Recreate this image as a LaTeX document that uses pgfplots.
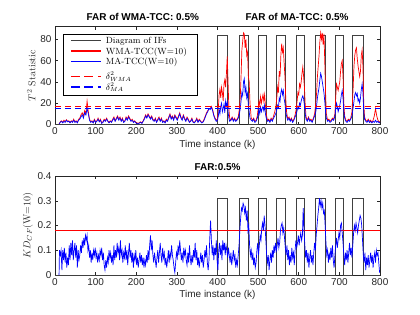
\documentclass[border=0pt]{standalone}
\usepackage{pgfplots}
\pgfplotsset{compat=1.18}
\usepackage{fontspec}
\setsansfont{Liberation Sans}
\definecolor{axgray}{rgb}{0.15,0.15,0.15}
\definecolor{ifgray}{rgb}{0.25,0.25,0.25}
\pgfplotsset{
  myaxis/.style={
    scale only axis, width=325bp, xmin=0, xmax=800,
    axis line style={axgray, line width=0.5pt},
    tick style={axgray, line width=0.5pt},
    tick align=inside, tick pos=both, major tick length=3bp,
    xtick={0,100,...,800},
    ticklabel style={font=\sffamily\fontsize{10}{12}\selectfont, text=axgray},
    /pgf/number format/assume math mode=true,
    xlabel={\sffamily\fontsize{10}{12}\selectfont Time instance (k)},
    xlabel style={text=axgray, yshift=2bp},
    ylabel style={text=axgray, yshift=-2bp},
  }
}
\newcommand{\legline}[1]{\tikz[baseline=-3pt]\draw[#1] (0bp,0bp) -- (30bp,0bp);}
\begin{document}
\begin{tikzpicture}
% ---------- top axis ----------
\begin{axis}[myaxis, at={(55bp,-124.5bp)}, anchor=south west, height=98bp,
  ymin=0, ymax=92, ytick={0,20,...,80},
  ylabel={\fontsize{10}{12}\selectfont $T^2$ Statistic},
  clip=false]
\addplot[color=ifgray, line width=0.8pt] coordinates {(0,0) (400,0) (400,84) (425,84) (425,0) (455,0) (455,84) (477,84) (477,0) (500,0) (500,84) (520,84) (520,0) (545,0) (545,84) (568,84) (568,0) (595,0) (595,84) (613,84) (613,0) (642,0) (642,84) (665,84) (665,0) (690,0) (690,84) (709,84) (709,0) (733,0) (733,84) (758,84) (758,0) (800,0)};
\addplot[color=red, line width=0.7pt] coordinates {(10,0.5) (13,2.5) (16,3.5) (19,2) (22,4) (25,2.5) (28,4.5) (31,3) (34,3.5) (37,2) (40,3.5) (43,2.5) (46,5) (49,2.5) (52,3.5) (55,2) (58,5) (61,6) (64,9) (67,11) (70,8) (73,13) (76,10) (79,22) (82,12) (85,5) (88,2.5) (91,3.5) (94,2) (97,5) (100,2.5) (103,3.5) (106,6) (109,3) (112,5) (115,1.5) (118,2.5) (121,5) (124,3.5) (127,6) (130,3.5) (133,2) (136,3.5) (139,2.5) (142,5) (145,7) (148,3.5) (151,6) (154,8) (157,5) (160,7) (163,3.5) (166,6) (169,2.5) (172,3.5) (175,7) (178,5) (181,8) (184,6) (187,3.5) (190,5) (193,2.5) (196,3.5) (199,2) (202,1.5) (205,1) (208,2) (211,2.5) (214,1.5) (217,3.5) (220,6) (223,9) (226,7) (229,10) (232,8) (235,6) (238,8) (241,5) (244,3.5) (247,6) (250,2.5) (253,5) (256,7) (259,3.5) (262,6) (265,2.5) (268,3.5) (271,2) (274,5) (277,3.5) (280,7) (283,10) (286,6) (289,8) (292,5) (295,9) (298,7) (301,5) (304,8) (307,11) (310,7) (313,5) (316,9) (319,6) (322,3.5) (325,7) (328,5) (331,2.5) (334,3.5) (337,6) (340,2.5) (343,2) (346,3.5) (349,6) (352,2.5) (355,5) (358,3.5) (361,2) (364,2.5) (367,5) (370,8) (373,11) (376,13) (379,15) (382,15) (385,17) (388,14) (391,9) (394,6) (397,4) (400,5)
(402,15) (404,28) (406,33) (408,25) (410,35) (412,30) (414,22) (416,38) (418,42) (420,35) (422,48) (424,64) (426,40) (428,15) (430,6) (433,4) (436,7) (439,4) (442,6) (445,3.5) (448,5) (451,7)
(454,15) (456,25) (458,45) (460,70) (462,78) (464,86) (466,85) (468,72) (470,80) (472,65) (474,68) (476,45) (478,40) (480,20) (483,6) (486,4) (489,6) (492,3) (495,4) (498,8)
(500,15) (502,22) (504,18) (506,26) (508,20) (510,24) (512,28) (514,22) (516,28) (518,18) (520,10) (523,4) (526,5) (529,3) (532,6) (535,4) (538,8) (541,12) (544,18)
(546,25) (548,35) (550,30) (552,50) (554,45) (556,65) (558,76) (560,68) (562,72) (564,58) (566,45) (568,25) (570,12) (573,5) (576,7) (579,4) (582,6) (585,3) (588,5) (591,9) (594,15)
(596,22) (598,30) (600,28) (602,38) (604,35) (606,40) (608,48) (610,54) (612,45) (614,35) (616,18) (618,7) (621,4) (624,7) (627,4) (630,5) (633,3) (636,6) (639,10) (642,20)
(644,30) (646,45) (648,55) (650,65) (652,78) (654,86) (656,80) (658,86) (660,75) (662,85) (664,60) (666,30) (668,10) (671,4) (674,5) (677,3) (680,4) (683,6) (686,5) (689,10)
(691,25) (693,38) (695,35) (697,32) (699,36) (701,40) (703,50) (705,57) (707,60) (709,45) (711,20) (713,8) (716,4) (719,3) (722,5) (725,4) (728,6) (731,12)
(734,35) (736,55) (738,65) (740,70) (742,72) (744,62) (746,55) (748,50) (750,45) (752,50) (754,65) (756,70) (758,55) (760,20) (762,7) (765,4) (768,3) (771,5) (774,3) (777,4) (780,2) (783,4) (786,8) (789,15) (792,8) (795,4) (798,2) (800,3)};
\addplot[color=blue, line width=0.7pt] coordinates {(10,0.5) (13,2) (16,3) (19,1.5) (22,3) (25,2) (28,4) (31,2.5) (34,3) (37,1.5) (40,3) (43,2) (46,4) (49,2) (52,3) (55,1.5) (58,4) (61,5) (64,7) (67,9) (70,6) (73,11) (76,9) (79,15) (82,10) (85,4) (88,2) (91,3) (94,1.5) (97,4) (100,2) (103,3) (106,5) (109,2.5) (112,4) (115,1) (118,2) (121,4) (124,3) (127,5) (130,3) (133,1.5) (136,3) (139,2) (142,4) (145,6) (148,3) (151,5) (154,7) (157,4) (160,6) (163,3) (166,5) (169,2) (172,3) (175,6) (178,4) (181,7) (184,5) (187,3) (190,4) (193,2) (196,3) (199,1.5) (202,1) (205,0.5) (208,1.5) (211,2) (214,1) (217,3) (220,5) (223,8) (226,6) (229,9) (232,7) (235,5) (238,7) (241,4) (244,3) (247,5) (250,2) (253,4) (256,6) (259,3) (262,5) (265,2) (268,3) (271,1.5) (274,4) (277,3) (280,6) (283,9) (286,5) (289,7) (292,4) (295,8) (298,6) (301,4) (304,7) (307,10) (310,6) (313,4) (316,8) (319,5) (322,3) (325,6) (328,4) (331,2) (334,3) (337,5) (340,2) (343,1.5) (346,3) (349,5) (352,2) (355,4) (358,3) (361,1.5) (364,2) (367,4) (370,7) (373,10) (376,12) (379,15) (382,14) (385,16) (388,13) (391,8) (394,5) (397,3) (400,4)
(402,8) (404,14) (406,10) (408,17) (410,20) (412,12) (414,15) (416,19) (418,11) (420,22) (422,17) (424,21) (426,12) (428,6) (430,3) (433,4) (436,6) (439,3) (442,5) (445,3) (448,4) (451,6)
(454,10) (456,15) (458,22) (460,30) (462,27) (464,40) (466,43) (468,30) (470,35) (472,25) (474,29) (476,18) (478,12) (480,6) (483,4) (486,3) (489,5) (492,2) (495,3) (498,6)
(500,9) (502,14) (504,10) (506,16) (508,12) (510,15) (512,17) (514,13) (516,18) (518,10) (520,6) (523,3) (526,4) (529,2) (532,5) (535,3) (538,6) (541,8) (544,11)
(546,14) (548,18) (550,16) (552,25) (554,22) (556,30) (558,33) (560,28) (562,32) (564,24) (566,20) (568,12) (570,8) (573,4) (576,6) (579,3) (582,5) (585,2) (588,4) (591,7) (594,10)
(596,13) (598,17) (600,15) (602,20) (604,18) (606,22) (608,25) (610,27) (612,24) (614,18) (616,10) (618,5) (621,3) (624,6) (627,3) (630,4) (633,2) (636,5) (639,8) (642,12)
(644,18) (646,25) (648,30) (650,35) (652,42) (654,48) (656,45) (658,40) (660,35) (662,30) (664,22) (666,12) (668,6) (671,3) (674,4) (677,2) (680,3) (683,5) (686,4) (689,8)
(691,14) (693,20) (695,17) (697,12) (699,15) (701,18) (703,22) (705,28) (707,32) (709,25) (711,12) (713,6) (716,3) (719,2) (722,4) (725,3) (728,5) (731,8)
(734,16) (736,22) (738,28) (740,30) (742,27) (744,29) (746,22) (748,24) (750,20) (752,25) (754,33) (756,38) (758,30) (760,12) (762,5) (765,3) (768,2) (771,4) (774,2) (777,3) (780,1.5) (783,3) (786,2) (789,4) (792,2) (795,3) (798,1.5) (800,2)};
\addplot[color=red, line width=0.8pt, dash pattern=on 6bp off 4bp] coordinates {(0,17.3) (800,17.3)};
\addplot[color=blue, line width=0.8pt, dash pattern=on 6bp off 4bp] coordinates {(0,15.1) (800,15.1)};
\node[draw=black, line width=0.5pt, fill=white, anchor=north west, inner xsep=0pt, inner ysep=2pt,
  font=\fontsize{9}{10.5}\selectfont] at (rel axis cs:0.026,0.923) {%
  \begin{tabular}{@{\hspace{6.5pt}}l@{\hspace{4.5pt}}l@{\hspace{10pt}}}
  \legline{ifgray, line width=1.3pt} & Diagram of IFs\\
  \legline{red, line width=1.3pt} & WMA-TCC(W=10)\\
  \legline{blue, line width=1.3pt} & MA-TCC(W=10)\\[4pt]
  \legline{red, line width=1.3pt, dash pattern=on 9bp off 4.5bp} & $\delta^2_{WMA}$\\
  \legline{blue, line width=1.3pt, dash pattern=on 9bp off 4.5bp} & $\delta^2_{MA}$
  \end{tabular}};
\node[font=\sffamily\bfseries\fontsize{10}{12}\selectfont, anchor=base] at (rel axis cs:0.27,1.061) {FAR of WMA-TCC: 0.5\%};
\node[font=\sffamily\bfseries\fontsize{10}{12}\selectfont, anchor=base] at (rel axis cs:0.745,1.061) {FAR of MA-TCC: 0.5\%};
\end{axis}
% ---------- bottom axis ----------
\begin{axis}[myaxis, at={(55bp,-275bp)}, anchor=south west, height=99bp,
  ymin=0, ymax=0.4, ytick={0,0.1,...,0.4},
  yticklabel style={/pgf/number format/fixed, /pgf/number format/precision=1},
  ylabel={\fontsize{10}{12}\selectfont $KD_{CF}$(W=10)}, clip=false]
\addplot[color=ifgray, line width=0.8pt] coordinates {(0,0) (400,0) (400,0.31) (425,0.31) (425,0) (455,0) (455,0.31) (477,0.31) (477,0) (500,0) (500,0.31) (520,0.31) (520,0) (545,0) (545,0.31) (568,0.31) (568,0) (595,0) (595,0.31) (613,0.31) (613,0) (642,0) (642,0.31) (665,0.31) (665,0) (690,0) (690,0.31) (709,0.31) (709,0) (733,0) (733,0.31) (758,0.31) (758,0) (800,0)};
\addplot[color=red, line width=0.7pt] coordinates {(0,0.18) (800,0.18)};
\addplot[color=blue, line width=0.7pt] coordinates {(10,0) (11,0.1) (13,0.08) (15,0.1) (17,0.02) (19,0.1) (21,0.06) (23,0.11) (25,0.05) (27,0.09) (29,0.03) (31,0.07) (33,0.04) (35,0.12) (37,0.06) (39,0.13) (41,0.08) (43,0.14) (45,0.06) (47,0.1) (49,0.13) (51,0.07) (53,0.12) (55,0.03) (57,0.1) (59,0.06) (61,0.08) (63,0.12) (65,0.09) (67,0.14) (69,0.11) (71,0.15) (73,0.12) (75,0.16) (77,0.14) (79,0.16) (81,0.1) (83,0.12) (85,0.07) (87,0.1) (89,0.05) (91,0.09) (93,0.06) (95,0.1) (97,0.08) (99,0.11) (101,0.07) (103,0.09) (105,0.05) (107,0.08) (109,0.06) (111,0.1) (113,0.08) (115,0.11) (117,0.06) (119,0.09) (121,0.04) (123,0.02) (125,0.06) (127,0.03) (129,0.07) (131,0.05) (133,0.1) (135,0.07) (137,0.09) (139,0.05) (141,0.08) (143,0.04) (145,0.12) (147,0.06) (149,0.1) (151,0.07) (153,0.13) (155,0.09) (157,0.11) (159,0.06) (161,0.14) (163,0.08) (165,0.1) (167,0.05) (169,0.09) (171,0.07) (173,0.12) (175,0.06) (177,0.1) (179,0.04) (181,0.09) (183,0.13) (185,0.07) (187,0.1) (189,0.05) (191,0.09) (193,0.03) (195,0.08) (197,0.06) (199,0.1) (201,0.04) (203,0.07) (205,0.03) (207,0.06) (209,0.09) (211,0.05) (213,0.08) (215,0.04) (217,0.07) (219,0.03) (221,0.06) (223,0.04) (225,0.08) (227,0.05) (229,0.1) (231,0.06) (233,0.12) (235,0.16) (237,0.1) (239,0.14) (241,0.08) (243,0.05) (245,0.09) (247,0.06) (249,0.03) (251,0.07) (253,0.1) (255,0.05) (257,0.09) (259,0.13) (261,0.08) (263,0.05) (265,0.11) (267,0.07) (269,0.09) (271,0.04) (273,0.07) (275,0.03) (277,0.06) (279,0.1) (281,0.05) (283,0.09) (285,0.07) (287,0.12) (289,0.08) (291,0.06) (293,0.03) (295,0.01) (297,0.05) (299,0.09) (301,0.07) (303,0.12) (305,0.08) (307,0.14) (309,0.1) (311,0.06) (313,0.09) (315,0.05) (317,0.11) (319,0.08) (321,0.1) (323,0.06) (325,0.04) (327,0.09) (329,0.05) (331,0.12) (333,0.07) (335,0.04) (337,0.08) (339,0.05) (341,0.1) (343,0.07) (345,0.13) (347,0.06) (349,0.1) (351,0.04) (353,0.07) (355,0.03) (357,0.06) (359,0.09) (361,0.05) (363,0.08) (365,0.03) (367,0.06) (369,0.1) (371,0.07) (373,0.12) (375,0.05) (377,0.02) (379,0.06) (381,0.15) (383,0.22) (385,0.14) (387,0.08) (389,0.12) (391,0.06) (393,0.11) (395,0.08) (397,0.14) (399,0.06)
(401,0.02) (403,0.1) (405,0.13) (407,0.08) (409,0.12) (411,0.06) (413,0.14) (415,0.1) (417,0.13) (419,0.08) (421,0.12) (423,0.1) (425,0.07) (427,0.11) (429,0.08) (431,0.05) (433,0.09) (435,0.04) (437,0.07) (439,0.1) (441,0.06) (443,0.08) (445,0.03) (447,0.06) (449,0.04) (451,0.08) (453,0.12) (455,0.18) (457,0.23) (459,0.27) (461,0.26) (463,0.29) (465,0.28) (467,0.25) (469,0.27) (471,0.22) (473,0.26) (475,0.18) (477,0.2) (479,0.12) (481,0.08) (483,0.1) (485,0.06) (487,0.09) (489,0.04) (491,0.07) (493,0.03) (495,0.05) (497,0.1) (499,0.13) (501,0.08) (503,0.12) (505,0.16) (507,0.14) (509,0.19) (511,0.21) (513,0.18) (515,0.24) (517,0.2) (519,0.14) (521,0.08) (523,0.05) (525,0.08) (527,0.02) (529,0.06) (531,0.09) (533,0.05) (535,0.1) (537,0.07) (539,0.12) (541,0.09) (543,0.13) (545,0.1) (547,0.12) (549,0.15) (551,0.11) (553,0.13) (555,0.18) (557,0.2) (559,0.21) (561,0.17) (563,0.19) (565,0.15) (567,0.11) (569,0.08) (571,0.12) (573,0.06) (575,0.1) (577,0.04) (579,0.08) (581,0.05) (583,0.11) (585,0.07) (587,0.09) (589,0.04) (591,0.1) (593,0.14) (595,0.11) (597,0.13) (599,0.16) (601,0.12) (603,0.15) (605,0.17) (607,0.14) (609,0.16) (611,0.27) (613,0.18) (615,0.12) (617,0.07) (619,0.1) (621,0.05) (623,0.09) (625,0.03) (627,0.07) (629,0.1) (631,0.05) (633,0.08) (635,0.04) (637,0.09) (639,0.13) (641,0.1) (643,0.16) (645,0.2) (647,0.24) (649,0.27) (651,0.31) (653,0.28) (655,0.3) (657,0.27) (659,0.29) (661,0.25) (663,0.26) (665,0.2) (667,0.13) (669,0.08) (671,0.1) (673,0.05) (675,0.09) (677,0.06) (679,0.11) (681,0.07) (683,0.12) (685,0.06) (687,0.03) (689,0.08) (691,0.12) (693,0.15) (695,0.11) (697,0.14) (699,0.17) (701,0.15) (703,0.2) (705,0.21) (707,0.17) (709,0.13) (711,0.08) (713,0.04) (715,0.09) (717,0.06) (719,0.1) (721,0.05) (723,0.09) (725,0.13) (727,0.08) (729,0.11) (731,0.07) (733,0.12) (735,0.17) (737,0.2) (739,0.18) (741,0.21) (743,0.19) (745,0.17) (747,0.2) (749,0.22) (751,0.24) (753,0.23) (755,0.2) (757,0.14) (759,0.08) (761,0.05) (763,0.09) (765,0.02) (767,0.07) (769,0.04) (771,0.08) (773,0.03) (775,0.06) (777,0.09) (779,0.05) (781,0.08) (783,0.03) (785,0.07) (787,0.09) (789,0.05) (791,0.1) (793,0.08) (795,0.09) (797,0.05) (799,0.01)};
\node[font=\sffamily\bfseries\fontsize{10}{12}\selectfont, anchor=base] at (rel axis cs:0.5,1.056) {FAR:0.5\%};
\end{axis}
\pgfresetboundingbox
\path[use as bounding box] (0,0) rectangle (420bp,-315bp);
\end{tikzpicture}
\end{document}
